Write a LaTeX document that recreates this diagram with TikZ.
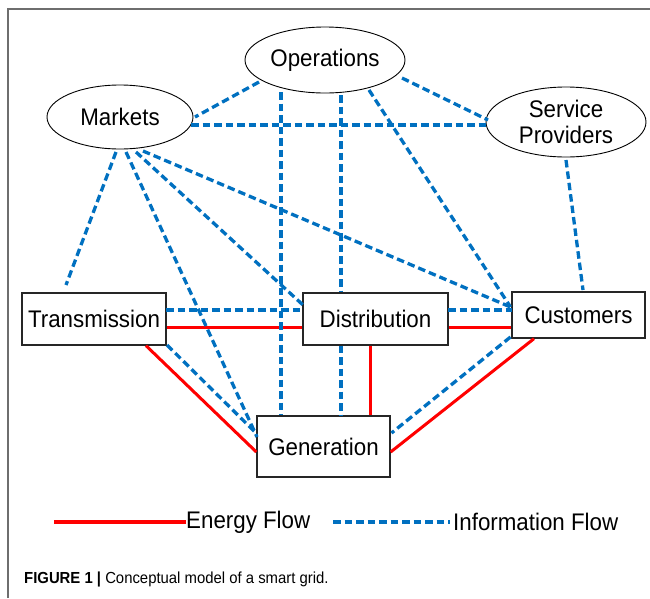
\documentclass[tikz,border=0pt]{standalone}
\usepackage{fontspec}
\setmainfont{Liberation Sans}
\newfontfamily\narrowfont[FakeStretch=0.93]{Liberation Sans}
\usetikzlibrary{shapes.geometric}
\definecolor{infoblue}{RGB}{0,112,192}
\definecolor{framegray}{RGB}{110,110,110}
\tikzset{
  oval/.style={ellipse, draw=black, line width=0.9pt, fill=white, inner sep=0pt,
    font=\narrowfont\fontsize{24}{25.5}\selectfont, align=center},
  boxnode/.style={rectangle, draw=black!85, line width=1.3pt, fill=white, inner sep=0pt,
    font=\narrowfont\fontsize{24}{25.5}\selectfont},
  energy/.style={draw=red, line width=3pt},
  info/.style={draw=infoblue, line width=3.3pt, dash pattern=on 7.5pt off 4pt},
  legtext/.style={anchor=west, inner sep=0pt, font=\narrowfont\fontsize{24}{25}\selectfont},
}
\begin{document}
\begin{tikzpicture}[x=1pt,y=-1pt]
\useasboundingbox (0,0) rectangle (650,598);
% frame
\draw[framegray, line width=1.4pt] (8,598) -- (8,9) -- (650,9);

% nodes
\node[oval, minimum width=160pt, minimum height=66pt] (ops) at (325,60) {Operations};
\node[oval, minimum width=146pt, minimum height=64pt] (mkt) at (120,117) {Markets};
\node[oval, minimum width=160pt, minimum height=70pt] (sp) at (566,122) {Service\\Providers};
\node[boxnode, minimum width=144pt, minimum height=52pt] (trans) at (94,319) {Transmission};
\node[boxnode, minimum width=145pt, minimum height=52pt] (dist) at (375.5,319) {Distribution};
\node[boxnode, minimum width=133pt, minimum height=46pt] (cust) at (578.5,315) {Customers};
\node[boxnode, minimum width=133pt, minimum height=61pt] (gen) at (323.5,446.5) {Generation};

% energy flow
\draw[energy] ([shift={(0,8)}]trans.east) -- ([shift={(0,8)}]dist.west);
\draw[energy] ([shift={(0,8)}]dist.east) -- ([shift={(0,12)}]cust.west);
\draw[energy] ([shift={(52,0)}]trans.south) -- ([shift={(0,5.5)}]gen.west);
\draw[energy] ([shift={(-5.5,0)}]dist.south) -- ([shift={(46.5,0)}]gen.north);
\draw[energy] ([shift={(-44.5,0)}]cust.south) -- ([shift={(0,5.5)}]gen.east);

% information flow
\draw[info] ([shift={(-66,22)}]ops.center) -- ([shift={(75,0)}]mkt.center);
\draw[info] ([shift={(77,18)}]ops.center) -- ([shift={(-78,-2)}]sp.center);
\draw[info] ([shift={(71,8)}]mkt.center) -- ([shift={(-78,3)}]sp.center);
\draw[info] ([shift={(-44,32)}]ops.center) -- ([shift={(-42.5,0)}]gen.north);
\draw[info] ([shift={(16,35)}]ops.center) -- ([shift={(-34.5,0)}]dist.north);
\draw[info] ([shift={(-34.5,0)}]dist.south) -- ([shift={(17.5,0)}]gen.north);
\draw[info] ([shift={(44,30)}]ops.center) -- ([shift={(-68,-8)}]cust.center);
\draw[info] ([shift={(-4,35)}]mkt.center) -- ([shift={(-28,-34)}]trans.center);
\draw[info] ([shift={(6,35)}]mkt.center) -- ([shift={(-66.5,-9.5)}]gen.center);
\draw[info] ([shift={(16,35)}]mkt.center) -- ([shift={(-72.5,-14)}]dist.center);
\draw[info] ([shift={(23,34)}]mkt.center) -- ([shift={(-68,-8)}]cust.center);
\draw[info] ([shift={(0,38)}]sp.center) -- ([shift={(4.5,-25)}]cust.center);
\draw[info] ([shift={(72,-9)}]trans.center) -- ([shift={(-72.5,-9)}]dist.center);
\draw[info] ([shift={(72.5,-9)}]dist.center) -- ([shift={(-66.5,-5)}]cust.center);
\draw[info] ([shift={(73,26)}]trans.center) -- ([shift={(-67.5,-13.5)}]gen.center);
\draw[info] ([shift={(-68,22)}]cust.center) -- ([shift={(68,-13.5)}]gen.center);

% legend
\node[legtext] (elab) at (186,522) {Energy Flow};
\node[legtext] (ilab) at (453,522) {Information Flow};
\coordinate (estart) at (54,522);
\coordinate (istart) at (333,522);
\draw[energy, line width=3.5pt] (estart) -- (elab.west |- estart);
\draw[info] (istart) -- ([xshift=-3pt]ilab.west |- istart);

% caption
\node[anchor=west, inner sep=0pt, font=\narrowfont\fontsize{16}{18}\selectfont] (cap) at (24,579)
  {\textbf{FIGURE 1 |} Conceptual model of a smart grid.};
\end{tikzpicture}
\end{document}
